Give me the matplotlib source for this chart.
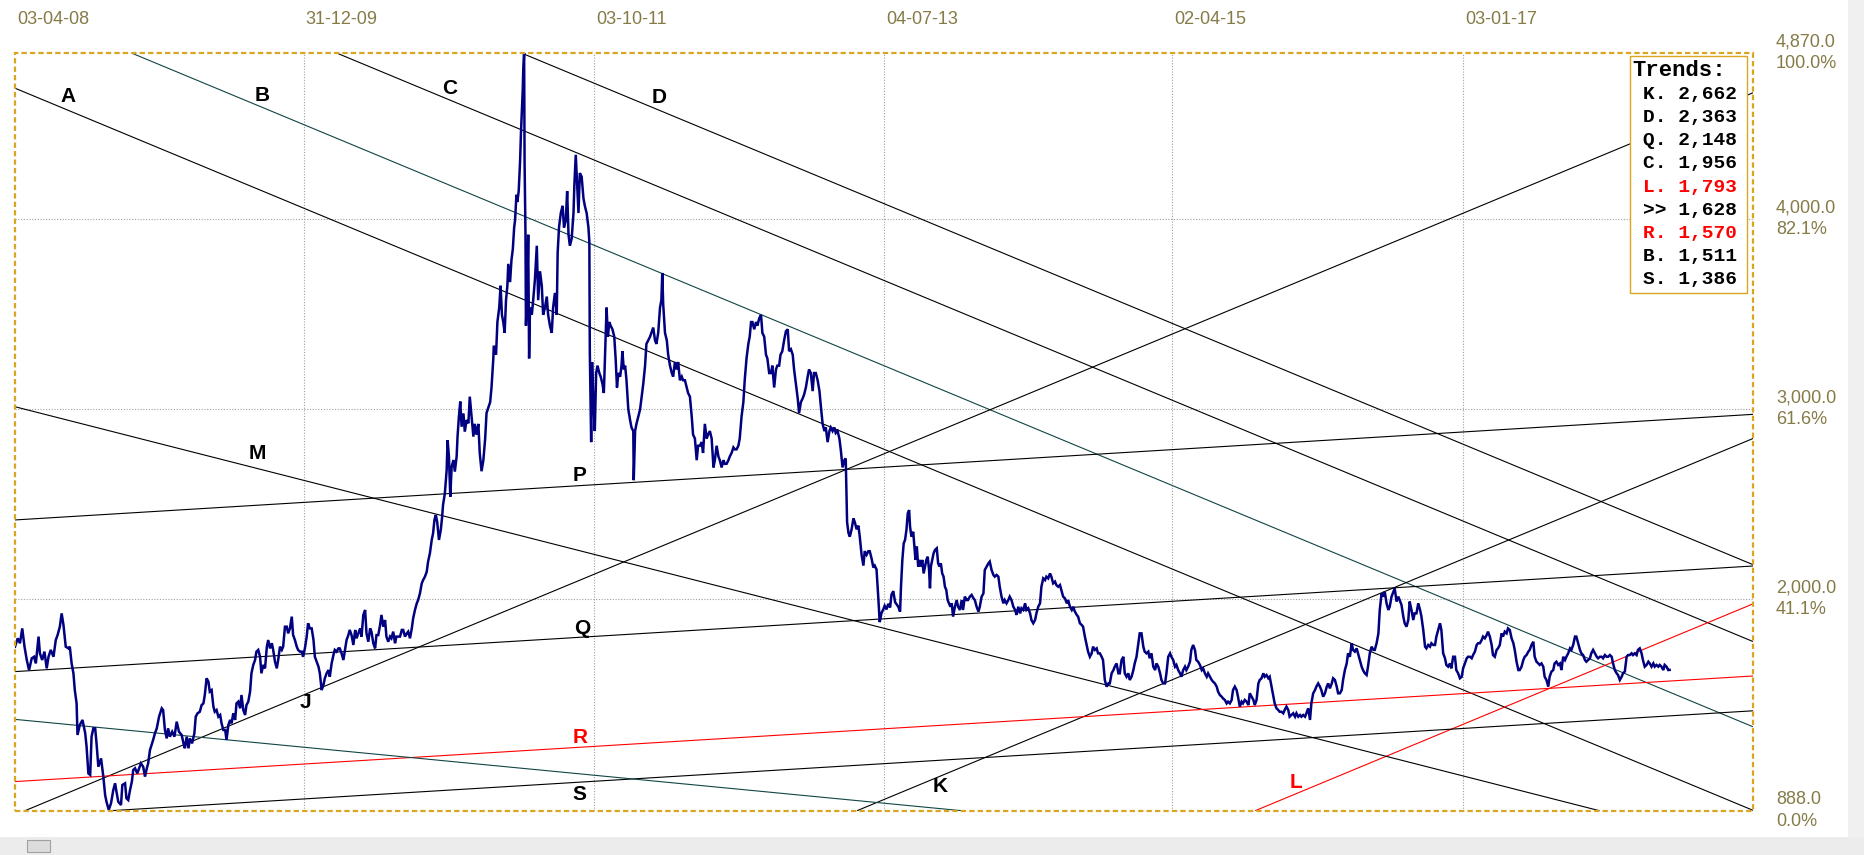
import numpy as np
import pandas as pd
import matplotlib
matplotlib.use('Agg')
import matplotlib.pyplot as plt
import matplotlib.dates as mdates
from matplotlib.patches import Rectangle
from matplotlib.transforms import blended_transform_factory, offset_copy

# ---------------- data ----------------
START_DATE = '2008-04-03'
AXIS_END_DAY = 3837

seg1_days = [0, 6, 11, 16, 21, 26, 31, 37, 42, 46,
             52, 55, 60, 65, 70, 74, 79, 85, 90, 94,
             99, 103, 107, 112, 118, 121, 125, 129, 132, 136,
             138, 143, 149, 155, 158, 162, 166, 169, 173, 177,
             180, 184, 190, 195, 199, 202, 207, 212, 217, 221,
             224, 228, 234, 237, 243, 246, 250, 254, 258, 261,
             265, 270, 274, 278, 283, 287, 291, 294, 298, 305,
             309, 313, 318, 324, 327, 331, 335, 338, 342, 347,
             352, 357, 362, 368, 372, 375, 379, 383, 386, 391,
             396, 399, 403, 408, 412, 416, 419, 423, 427, 430,
             434, 438, 441, 445, 449, 453, 456, 460, 464, 467,
             471, 475, 478, 482, 486, 489, 493, 497, 500, 504,
             508, 511, 515, 519, 522, 526, 530, 533, 537, 541,
             544, 548, 552, 556, 559, 563, 567, 570, 574, 578,
             581, 585, 589, 592, 596, 600, 603, 607, 611, 614,
             618, 622, 625, 629, 633, 636, 640, 644, 647, 651,
             655, 659, 662, 666, 670, 673, 677, 681, 684, 688,
             692, 695, 699, 703, 706, 710, 714, 717, 721, 725,
             728, 732, 736, 739, 743, 747, 751, 754, 758, 762,
             765, 769, 773, 776, 780, 784, 787, 791, 795, 798,
             802, 806, 809, 813, 817, 820, 824, 828, 831, 835,
             839, 842, 846, 850, 854, 857, 861, 865, 868, 872,
             876, 879, 883, 887, 890, 894, 898, 901, 905, 909,
             912, 916, 920, 923, 926, 929, 932, 936, 940, 943,
             945, 949, 953, 955, 958, 961, 964, 968, 971, 975,
             977, 980, 983, 986, 990, 993, 997, 1001, 1004, 1008,
             1012]
seg1_vals = [1750, 1794, 1768, 1846, 1750, 1680, 1627, 1689, 1697, 1662,
             1803, 1715, 1680, 1724, 1636, 1697, 1733, 1697, 1785, 1811,
             1855, 1925, 1864, 1750, 1741, 1750, 1662, 1610, 1522, 1452,
             1286, 1338, 1365, 1295, 1225, 1084, 1076, 1277, 1321, 1321,
             1242, 1119, 1163, 1067, 970, 935, 892, 927, 997, 1032,
             988, 935, 918, 1023, 1032, 953, 944, 997, 1041, 1102,
             1111, 1084, 1111, 1137, 1119, 1067, 1111, 1137, 1207, 1260,
             1295, 1321, 1382, 1426, 1417, 1312, 1268, 1321, 1277, 1303,
             1277, 1356, 1303, 1286, 1242, 1216, 1277, 1216, 1268, 1242,
             1295, 1382, 1400, 1408, 1443, 1452, 1496, 1584, 1566, 1514,
             1522, 1435, 1408, 1417, 1382, 1391, 1347, 1312, 1312, 1260,
             1338, 1365, 1347, 1400, 1365, 1452, 1461, 1426, 1496, 1417,
             1391, 1443, 1461, 1514, 1610, 1654, 1680, 1724, 1733, 1697,
             1610, 1654, 1636, 1750, 1785, 1741, 1768, 1733, 1671, 1636,
             1680, 1750, 1733, 1750, 1855, 1855, 1820, 1846, 1908, 1811,
             1785, 1750, 1733, 1724, 1724, 1697, 1741, 1803, 1873, 1846,
             1846, 1785, 1697, 1671, 1645, 1610, 1522, 1549, 1584, 1610,
             1627, 1592, 1662, 1706, 1733, 1724, 1741, 1741, 1715, 1680,
             1724, 1785, 1811, 1838, 1811, 1759, 1838, 1794, 1820, 1846,
             1803, 1917, 1943, 1820, 1776, 1846, 1829, 1768, 1741, 1811,
             1811, 1864, 1917, 1855, 1890, 1803, 1776, 1803, 1794, 1829,
             1768, 1803, 1803, 1803, 1838, 1838, 1803, 1820, 1829, 1794,
             1846, 1899, 1943, 1978, 1995, 2030, 2083, 2100, 2118, 2144,
             2197, 2241, 2311, 2346, 2416, 2442, 2407, 2311, 2363, 2433,
             2495, 2556, 2679, 2836, 2749, 2538, 2696, 2731, 2670, 2749,
             2854, 2959, 3038, 2906, 2976, 2880, 2941, 2924, 3064, 2959,
             2854]

seg2_days = [1015, 1019, 1023, 1026, 1030, 1034, 1038, 1041, 1045, 1049,
             1052, 1056, 1057, 1062, 1065, 1069, 1072, 1075, 1078, 1081,
             1084, 1087, 1089, 1093, 1096, 1099, 1102, 1104, 1107, 1109,
             1112, 1115, 1117, 1119, 1121, 1122, 1124, 1125, 1127, 1128,
             1131, 1133, 1135, 1137, 1141, 1144, 1148, 1152, 1155, 1159,
             1163, 1166, 1170, 1174, 1177, 1181, 1185, 1188, 1192, 1196,
             1198, 1201, 1205, 1209, 1212, 1216, 1219, 1222, 1225, 1229,
             1233, 1235, 1238, 1241, 1244, 1247, 1251, 1255, 1258, 1262,
             1266, 1268, 1269, 1272, 1274, 1277, 1280, 1283, 1286, 1290,
             1293, 1297, 1300, 1303, 1306, 1309, 1312, 1315, 1319, 1323,
             1326, 1329, 1332, 1336, 1339, 1341, 1344, 1347, 1350, 1354,
             1358, 1361, 1365, 1366, 1369, 1372, 1376, 1380, 1383, 1387,
             1391, 1394, 1398, 1402, 1405, 1409, 1413, 1416, 1420, 1424,
             1427, 1429, 1431, 1435, 1439, 1442, 1446, 1450, 1453, 1457,
             1461, 1464, 1468, 1472, 1475, 1479, 1483, 1486, 1490, 1494,
             1497, 1501, 1505, 1508, 1512, 1516, 1519, 1523, 1527, 1530,
             1534, 1538, 1542, 1545, 1549, 1553, 1556, 1560, 1564, 1567,
             1571, 1575, 1578, 1582, 1586, 1589, 1593, 1597, 1600, 1604,
             1608, 1611, 1615, 1619, 1622, 1625, 1628, 1632, 1636, 1639,
             1643, 1647, 1650, 1654, 1658, 1661, 1665, 1669, 1672, 1676,
             1680, 1683, 1687, 1690, 1694, 1698, 1702, 1706, 1709, 1713,
             1717, 1720, 1724, 1728, 1731, 1735, 1739, 1742, 1746, 1750,
             1753, 1757, 1761, 1764, 1768, 1772, 1776, 1779, 1783, 1787,
             1790, 1794, 1798, 1801, 1805, 1809, 1812, 1816, 1820, 1823,
             1827, 1831, 1834, 1837, 1840, 1843, 1847, 1851, 1854, 1858,
             1862, 1865, 1869, 1873, 1876, 1880, 1884, 1887, 1891, 1895,
             1898, 1902, 1906, 1909, 1913, 1917, 1920, 1924, 1928, 1932,
             1935, 1939, 1943]
seg2_vals = [2921, 2864, 2921, 2768, 2672, 2730, 2844, 2978, 3007, 3035,
             3112, 3265, 3332, 3284, 3456, 3532, 3647, 3494, 3456, 3399,
             3571, 3647, 3762, 3666, 3781, 3838, 3953, 3991, 4125, 4087,
             4144, 4297, 4450, 4564, 4679, 4774, 4870, 4297, 3915, 3437,
             3647, 3915, 3265, 3532, 3494, 3571, 3685, 3857, 3571, 3723,
             3647, 3494, 3532, 3590, 3494, 3437, 3399, 3532, 3609, 3494,
             3819, 3953, 4029, 4067, 3953, 3991, 4144, 3915, 3857, 3895,
             4029, 4182, 4335, 4182, 4029, 4239, 4220, 4106, 4067, 4029,
             3953, 3876, 3303, 2825, 3246, 3035, 2883, 3188, 3227, 3188,
             3169, 3131, 3083, 3303, 3532, 3379, 3456, 3437, 3418, 3379,
             3265, 3112, 3188, 3169, 3227, 3303, 3207, 3227, 3150, 2997,
             2940, 2902, 2883, 2625, 2883, 2921, 2959, 2997, 3055, 3131,
             3227, 3341, 3360, 3379, 3399, 3427, 3360, 3341, 3399, 3532,
             3571, 3714, 3551, 3399, 3360, 3284, 3227, 3188, 3169, 3246,
             3207, 3246, 3150, 3169, 3150, 3150, 3112, 3083, 3064, 2959,
             2864, 2844, 2730, 2806, 2806, 2825, 2768, 2921, 2844, 2864,
             2883, 2844, 2692, 2730, 2806, 2749, 2730, 2692, 2730, 2711,
             2711, 2730, 2749, 2768, 2797, 2787, 2787, 2806, 2844, 2959,
             3035, 3150, 3265, 3341, 3379, 3456, 3456, 3418, 3456, 3437,
             3475, 3494, 3399, 3379, 3284, 3265, 3188, 3188, 3227, 3112,
             3207, 3227, 3227, 3284, 3303, 3360, 3408, 3418, 3303, 3313,
             3284, 3207, 3131, 3055, 2978, 3035, 3055, 3074, 3112, 3169,
             3207, 3188, 3093, 3188, 3188, 3150, 3093, 3016, 2921, 2883,
             2902, 2825, 2883, 2902, 2883, 2902, 2873, 2883, 2844, 2787,
             2692, 2730, 2739, 2405, 2348, 2328, 2367, 2424, 2405, 2367,
             2386, 2328, 2233, 2176, 2252, 2233, 2252, 2252, 2214, 2166,
             2176, 2156, 2004, 1879, 1927, 1946, 1965, 1946, 1975, 1956,
             2023, 2042, 1984]

seg3_days = [1950, 1954, 1956, 1959, 1962, 1965, 1968, 1971, 1974, 1976,
             1979, 1983, 1985, 1988, 1991, 1994, 1997, 2000, 2003, 2006,
             2009, 2012, 2015, 2018, 2020, 2022, 2025, 2028, 2031, 2035,
             2038, 2041, 2044, 2047, 2050, 2053, 2056, 2059, 2062, 2065,
             2068, 2071, 2075, 2079, 2082, 2086, 2090, 2093, 2097, 2101,
             2104, 2108, 2112, 2116, 2119, 2123, 2127, 2130, 2134, 2138,
             2141, 2145, 2149, 2152, 2156, 2160, 2163, 2167, 2171, 2174,
             2178, 2182, 2185, 2189, 2193, 2196, 2200, 2204, 2208, 2211,
             2215, 2219, 2222, 2226, 2230, 2233, 2237, 2241, 2244, 2248,
             2252, 2255, 2259, 2263, 2266, 2270, 2274, 2277, 2281, 2285,
             2288, 2292, 2296, 2299, 2303, 2307, 2310, 2314, 2318, 2322,
             2325, 2329, 2333, 2336, 2340, 2344, 2347, 2351, 2355, 2358,
             2362, 2366, 2369, 2373, 2377, 2380, 2384, 2388, 2391, 2395,
             2399, 2402, 2406, 2410, 2414, 2417, 2421, 2425, 2428, 2432,
             2436, 2439, 2443, 2447, 2450, 2454, 2458, 2461, 2465, 2469,
             2472, 2476, 2480, 2483, 2487, 2491, 2494, 2498, 2502, 2505,
             2509, 2513, 2517, 2520, 2524, 2528, 2531, 2535, 2539, 2542,
             2546, 2550, 2553, 2557, 2561, 2564, 2568, 2572, 2575, 2579,
             2583, 2586, 2590, 2594, 2597, 2601, 2605, 2608, 2612, 2616,
             2620, 2623, 2627, 2631, 2634, 2638, 2642, 2645, 2649, 2653,
             2656, 2660, 2664, 2667, 2671, 2675, 2678, 2682, 2686, 2689,
             2693, 2697, 2700, 2704, 2708, 2711, 2715, 2719, 2723, 2726,
             2730, 2734, 2737, 2741, 2745, 2748, 2752, 2756, 2759, 2763,
             2767, 2770, 2774, 2778, 2781, 2785, 2789, 2792, 2796, 2800,
             2803, 2807, 2811, 2814, 2818, 2822, 2826, 2829, 2833, 2837,
             2840, 2844, 2848, 2851, 2855, 2859, 2862, 2866, 2870]
seg3_vals = [1960, 1934, 2065, 2206, 2293, 2311, 2363, 2451, 2468, 2381,
             2328, 2354, 2293, 2206, 2276, 2171, 2206, 2171, 2206, 2135,
             2171, 2206, 2223, 2153, 2057, 2171, 2206, 2241, 2258, 2267,
             2188, 2171, 2188, 2135, 2118, 2065, 2048, 1995, 1978, 1960,
             1978, 1908, 1960, 1995, 1960, 1943, 1995, 1943, 2013, 1995,
             1995, 2013, 2022, 2004, 1995, 1960, 1934, 1960, 2013, 2030,
             2153, 2171, 2188, 2197, 2153, 2127, 2118, 2127, 2118, 2065,
             2013, 1978, 1995, 1978, 1995, 2013, 1995, 1960, 1943, 1917,
             1960, 1925, 1952, 1943, 1978, 1943, 1952, 1925, 1890, 1873,
             1890, 1925, 1960, 1978, 2065, 2109, 2100, 2118, 2109, 2135,
             2118, 2083, 2092, 2074, 2065, 2074, 2048, 2013, 2004, 1978,
             1995, 1960, 1943, 1960, 1934, 1917, 1908, 1873, 1864, 1855,
             1803, 1759, 1724, 1697, 1715, 1750, 1733, 1741, 1715, 1715,
             1697, 1680, 1575, 1540, 1557, 1557, 1610, 1627, 1645, 1662,
             1610, 1610, 1680, 1697, 1610, 1592, 1610, 1575, 1592, 1627,
             1662, 1697, 1768, 1820, 1820, 1750, 1724, 1715, 1724, 1689,
             1715, 1645, 1627, 1662, 1645, 1610, 1575, 1557, 1557, 1610,
             1697, 1715, 1697, 1680, 1645, 1654, 1627, 1610, 1592, 1627,
             1645, 1627, 1645, 1671, 1733, 1759, 1733, 1680, 1671, 1654,
             1627, 1636, 1610, 1592, 1610, 1592, 1575, 1566, 1557, 1540,
             1514, 1496, 1487, 1478, 1470, 1452, 1461, 1452, 1470, 1522,
             1540, 1522, 1487, 1435, 1461, 1452, 1470, 1461, 1443, 1505,
             1487, 1470, 1443, 1470, 1557, 1575, 1584, 1610, 1592, 1601,
             1584, 1592, 1540, 1487, 1452, 1426, 1417, 1408, 1408, 1400,
             1417, 1435, 1417, 1382, 1391, 1400, 1382, 1400, 1382, 1391,
             1382, 1391, 1382, 1400, 1426, 1365, 1452, 1505, 1522]

seg4_days = [2873, 2877, 2881, 2884, 2888, 2892, 2896, 2899, 2903, 2907,
             2910, 2914, 2918, 2921, 2925, 2929, 2932, 2936, 2940, 2943,
             2947, 2951, 2954, 2958, 2962, 2965, 2969, 2973, 2976, 2980,
             2984, 2987, 2991, 2995, 2999, 3002, 3006, 3010, 3013, 3017,
             3021, 3024, 3028, 3032, 3035, 3039, 3043, 3046, 3050, 3054,
             3057, 3061, 3065, 3068, 3072, 3076, 3079, 3083, 3087, 3090,
             3094, 3098, 3102, 3105, 3109, 3113, 3116, 3120, 3124, 3127,
             3131, 3135, 3138, 3142, 3146, 3149, 3153, 3157, 3160, 3164,
             3168, 3171, 3175, 3179, 3182, 3186, 3190, 3194, 3197, 3201,
             3205, 3208, 3212, 3216, 3219, 3223, 3227, 3230, 3234, 3238,
             3241, 3245, 3249, 3252, 3256, 3260, 3263, 3267, 3271, 3274,
             3278, 3282, 3285, 3289, 3293, 3296, 3300, 3304, 3308, 3311,
             3315, 3319, 3322, 3326, 3330, 3333, 3337, 3341, 3344, 3348,
             3352, 3355, 3359, 3363, 3366, 3370, 3374, 3377, 3381, 3385,
             3388, 3392, 3396, 3399, 3403, 3407, 3411, 3414, 3418, 3422,
             3425, 3429, 3433, 3436, 3440, 3444, 3447, 3451, 3455, 3458,
             3462, 3466, 3469, 3473, 3477, 3480, 3484, 3488, 3492, 3495,
             3499, 3503, 3506, 3510, 3514, 3517, 3521, 3525, 3528, 3532,
             3536, 3539, 3543, 3547, 3550, 3554, 3558, 3561, 3565, 3569,
             3572, 3576, 3580, 3583, 3587, 3591, 3594, 3598, 3602, 3606,
             3609, 3613, 3617, 3620, 3624, 3628, 3631, 3635, 3639, 3642,
             3646, 3650, 3653]
seg4_vals = [1540, 1557, 1540, 1522, 1487, 1505, 1540, 1557, 1531, 1557,
             1584, 1575, 1540, 1505, 1505, 1522, 1575, 1627, 1662, 1715,
             1697, 1768, 1733, 1724, 1741, 1715, 1680, 1645, 1627, 1610,
             1601, 1645, 1715, 1750, 1733, 1733, 1768, 1820, 1943, 2030,
             2013, 2039, 1978, 1943, 1960, 2013, 2039, 2057, 1987, 2013,
             1995, 1969, 1908, 1873, 1855, 1890, 1987, 1943, 1890, 1925,
             1925, 1978, 1943, 1908, 1838, 1750, 1741, 1759, 1750, 1768,
             1759, 1759, 1803, 1838, 1873, 1838, 1715, 1689, 1654, 1645,
             1662, 1636, 1697, 1697, 1627, 1610, 1584, 1592, 1636, 1662,
             1689, 1697, 1697, 1689, 1706, 1724, 1759, 1768, 1768, 1785,
             1803, 1794, 1811, 1829, 1803, 1759, 1706, 1697, 1733, 1741,
             1759, 1820, 1803, 1829, 1820, 1846, 1838, 1794, 1768, 1733,
             1671, 1627, 1627, 1645, 1680, 1697, 1706, 1724, 1733, 1759,
             1776, 1697, 1671, 1662, 1654, 1662, 1645, 1592, 1575, 1540,
             1592, 1619, 1627, 1662, 1671, 1654, 1662, 1627, 1697, 1680,
             1697, 1715, 1741, 1733, 1759, 1803, 1803, 1768, 1733, 1715,
             1706, 1680, 1671, 1680, 1689, 1715, 1733, 1715, 1697, 1689,
             1697, 1697, 1689, 1706, 1697, 1697, 1706, 1697, 1662, 1627,
             1610, 1601, 1575, 1592, 1610, 1619, 1697, 1706, 1706, 1715,
             1706, 1715, 1706, 1733, 1741, 1715, 1680, 1645, 1654, 1671,
             1662, 1645, 1662, 1645, 1654, 1645, 1654, 1645, 1627, 1654,
             1645, 1627, 1628]

date_labels = ['03-04-08', '31-12-09', '03-10-11', '04-07-13', '02-04-15', '03-01-17']
y_tick_values = [4870, 4000, 3000, 2000, 888]
y_tick_texts = ['4,870.0', '4,000.0', '3,000.0', '2,000.0', '888.0']
y_tick_pcts = ['100.0%', '82.1%', '61.6%', '41.1%', '0.0%']
y_grid_values = [2000, 3000, 4000]
Y_MIN, Y_MAX = 888, 4870

# trend lines: start/end anchor (day offset, value)
trend_names  = ['A', 'B', 'C', 'D', 'J', 'K', 'L', 'M', 'P', 'Q', 'R', 'S', 'T']
trend_day0   = [0, 257, 710, 1118, 22, 1859, 2738, 0, 0, 0, 0, 211, 0]
trend_val0   = [4685, 4870, 4870, 4870, 888, 888, 888, 3011, 2416, 1619, 1041, 888, 1368]
trend_day1   = [3837, 3837, 3837, 3837, 3837, 3837, 3837, 3498, 3837, 3837, 3837, 3837, 2090]
trend_val1   = [890, 1329, 1777, 2181, 4661, 2844, 1975, 888, 2971, 2174, 1596, 1413, 888]
trend_kind   = ['k', 't', 'k', 'k', 'k', 'k', 'r', 'k', 'k', 'k', 'r', 'k', 't']

label_names = ['A', 'B', 'C', 'D', 'J', 'K', 'L', 'M', 'P', 'Q', 'R', 'S']
label_days  = [117, 545, 960, 1422, 642, 2042, 2828, 535, 1247, 1252, 1247, 1245]
label_vals  = [4639, 4649, 4681, 4636, 1459, 1013, 1034, 2763, 2652, 1848, 1275, 971]
label_kind  = ['k', 'k', 'k', 'k', 'k', 'k', 'r', 'k', 'k', 'k', 'r', 'k']

legend_title = 'Trends:'
legend_keys = ['K.', 'D.', 'Q.', 'C.', 'L.', '>>', 'R.', 'B.', 'S.']
legend_vals = [2662, 2363, 2148, 1956, 1793, 1628, 1570, 1511, 1386]
legend_kind = ['k', 'k', 'k', 'k', 'r', 'k', 'r', 'k', 'k']

# ---------------- styling ----------------
COLORS = {'k': '#000000', 't': '#124545', 'r': '#ff0000'}
PRICE_COLOR = '#000080'
AXIS_TEXT = '#857b47'
BORDER = '#DAA520'
SANS = ['Liberation Sans', 'DejaVu Sans']
MONO = ['Liberation Mono', 'DejaVu Sans Mono']

W, H = 1865, 855
start = pd.Timestamp(START_DATE)


def to_num(days):
    idx = start + pd.to_timedelta(np.asarray(days, dtype=float), unit='D')
    return mdates.date2num(idx.to_pydatetime())


fig = plt.figure(figsize=(W / 100, H / 100), dpi=100)
fig.patch.set_facecolor('white')

top_px, bot_px, left_px, right_px = 53, 810.7, 15, 1753
ax = fig.add_axes([left_px / W, 1 - bot_px / H, (right_px - left_px) / W, (bot_px - top_px) / H])
ax.set_facecolor('white')
ax.set_xlim(to_num([0, AXIS_END_DAY]))
ax.set_ylim(Y_MIN, Y_MAX)
ax.set_xticks([])
ax.set_yticks([])
for s in ax.spines.values():
    s.set_visible(False)

# grid
tick_dates = pd.to_datetime(date_labels, format='%d-%m-%y')
tick_nums = mdates.date2num(tick_dates.to_pydatetime())
for xv in tick_nums[1:]:
    ax.axvline(xv, color='#a0a0a0', lw=0.8, ls=(0, (1, 1.5)), zorder=1)
for yv in y_grid_values:
    ax.axhline(yv, color='#a0a0a0', lw=0.8, ls=(0, (1, 1.5)), zorder=1)

# trend lines
for d0, v0, d1, v1, k in zip(trend_day0, trend_val0, trend_day1, trend_val1, trend_kind):
    ax.plot(to_num([d0, d1]), [v0, v1], color=COLORS[k], lw=0.8, zorder=3, solid_capstyle='butt')

# price
price_days = seg1_days + seg2_days + seg3_days + seg4_days
price_vals = seg1_vals + seg2_vals + seg3_vals + seg4_vals
ax.plot(to_num(price_days), price_vals, color=PRICE_COLOR, lw=1.8, zorder=4,
        solid_joinstyle='miter')

# line labels
for n, d, v, k in zip(label_names, label_days, label_vals, label_kind):
    ax.text(to_num([d])[0], v, n, ha='center', va='center', fontsize=15,
            fontweight='bold', color=COLORS[k] if k != 't' else 'black',
            family=SANS, zorder=5)

# plot border (dashed)
ax.add_patch(Rectangle((0, 0), 1, 1, transform=ax.transAxes, fill=False,
                       ec=BORDER, lw=1.6, ls=(0, (2.4, 1.4)), clip_on=False, zorder=6))

# top date labels
trans = blended_transform_factory(ax.transData, ax.transAxes)
trans = offset_copy(trans, fig=fig, x=2, y=33, units='dots')
for xv, lab in zip(tick_nums, date_labels):
    ax.text(xv, 1, lab, transform=trans, ha='left', va='center', fontsize=13,
            color=AXIS_TEXT, family=SANS, clip_on=False)

# right labels
for v, t, p in zip(y_tick_values, y_tick_texts, y_tick_pcts):
    ax.annotate(t + '\n' + p, xy=(1776, v), xycoords=('figure pixels', 'data'),
                ha='left', va='center', fontsize=13, color=AXIS_TEXT,
                family=SANS, linespacing=1.35, annotation_clip=False)

# legend box
lg_left, lg_right, lg_top, lg_bot = 1630, 1747, 56, 293
fig.add_artist(Rectangle((lg_left / W, 1 - lg_bot / H), (lg_right - lg_left) / W,
                         (lg_bot - lg_top) / H, transform=fig.transFigure,
                         facecolor='white', edgecolor=BORDER, lw=1.0, zorder=20))
fig.text(1632 / W, 1 - 70 / H, legend_title, ha='left', va='center', fontsize=16,
         fontweight='bold', family=MONO, color='black', zorder=21)
for i, (key, val, k) in enumerate(zip(legend_keys, legend_vals, legend_kind)):
    y = 94.3 + 23.2 * i
    fig.text(1643 / W, 1 - y / H, f'{key} {val:,}', ha='left', va='center', fontsize=14,
             fontweight='bold', family=MONO, color=COLORS[k], zorder=21)

# window chrome: right grey band and bottom scrollbar strip
fig.add_artist(Rectangle((1848 / W, 0), (W - 1848) / W, 1, transform=fig.transFigure,
                         facecolor='#f0f0f0', edgecolor='none', zorder=-5))
fig.add_artist(Rectangle((0, 0), 1, (H - 837) / H, transform=fig.transFigure,
                         facecolor='#ececec', edgecolor='none', zorder=-4))
fig.add_artist(Rectangle((27 / W, 3 / H), 23 / W, 12 / H, transform=fig.transFigure,
                         facecolor='#dcdcdc', edgecolor='#a0a0a0', lw=0.8, zorder=-3))

fig.savefig('out.png', dpi=100, facecolor='white')
